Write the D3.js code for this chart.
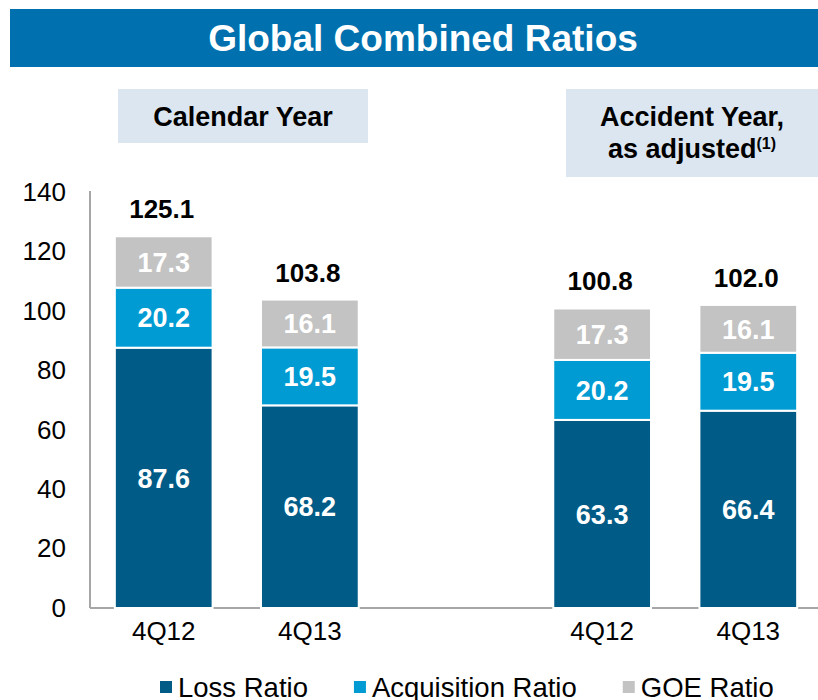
<!DOCTYPE html>
<html lang="en">
<head>
    <meta charset="UTF-8">
    <title>Global Combined Ratios</title>
    <style>
        body { margin: 0; background: #fff; }
        svg { display: block; font-family: Arial, "Liberation Sans", sans-serif; }
        .axis path { stroke: #a6a6a6; stroke-width: 2px; }
        .axis line { display: none; }
        .axis text { fill: #000; font-size: 26px; }
    </style>
</head>
<body>
    <script src="https://cdn.jsdelivr.net/npm/d3@7/dist/d3.min.js"></script>
    <script>
        var width = 818;
        var height = 700;

        // data
        var periods = ["4Q12", "4Q13", "4Q12", "4Q13"];
        var slots = [0, 1, 3, 4];          // slot 2 is the gap between the two groups
        var lossRatio = [87.6, 68.2, 63.3, 66.4];
        var acquisitionRatio = [20.2, 19.5, 20.2, 19.5];
        var goeRatio = [17.3, 16.1, 17.3, 16.1];
        var totals = [125.1, 103.8, 100.8, 102.0];
        var yTicks = [0, 20, 40, 60, 80, 100, 120, 140];
        var seriesNames = ["Loss Ratio", "Acquisition Ratio", "GOE Ratio"];
        var seriesKeys = ["loss", "acq", "goe"];
        var colors = ["#005b87", "#009bd3", "#c3c3c3"];

        var rows = periods.map(function(p, i) {
            return { i: i, period: p, slot: slots[i], loss: lossRatio[i], acq: acquisitionRatio[i], goe: goeRatio[i] };
        });

        var svg = d3.select("body")
                    .append("svg")
                    .attr("width", width)
                    .attr("height", height);

        // header band
        svg.append("rect")
            .attr("x", 10).attr("y", 9)
            .attr("width", 808).attr("height", 58)
            .attr("fill", "#0071ae");
        svg.append("text")
            .attr("x", 423).attr("y", 51)
            .attr("text-anchor", "middle")
            .attr("fill", "#fff")
            .attr("font-weight", "bold")
            .attr("font-size", 37)
            .text("Global Combined Ratios");

        // group captions
        svg.append("rect")
            .attr("x", 118).attr("y", 89)
            .attr("width", 250).attr("height", 54)
            .attr("fill", "#dce6f1");
        svg.append("text")
            .attr("x", 243).attr("y", 126)
            .attr("text-anchor", "middle")
            .attr("font-weight", "bold").attr("font-size", 27)
            .text("Calendar Year");

        svg.append("rect")
            .attr("x", 566).attr("y", 89)
            .attr("width", 252).attr("height", 88)
            .attr("fill", "#dce6f1");
        svg.append("text")
            .attr("x", 692).attr("y", 126)
            .attr("text-anchor", "middle")
            .attr("font-weight", "bold").attr("font-size", 27)
            .text("Accident Year,");
        var sub = svg.append("text")
            .attr("x", 692).attr("y", 158)
            .attr("text-anchor", "middle")
            .attr("font-weight", "bold").attr("font-size", 27);
        sub.append("tspan").text("as adjusted");
        sub.append("tspan").attr("font-size", 16).attr("dy", -9).text("(1)");

        // scales
        var x = d3.scaleBand()
            .domain([0, 1, 2, 3, 4])
            .range([90, 822])
            .paddingInner(0.331)
            .paddingOuter(0.17);

        var y = d3.scaleLinear()
            .domain([0, 140])
            .range([608, 192]);

        // axes
        svg.append("g")
            .attr("class", "axis")
            .attr("transform", "translate(90,0)")
            .call(d3.axisLeft(y).tickValues(yTicks).tickSize(0).tickPadding(24).tickSizeOuter(0))
            .select(".domain").attr("d", "M0," + (y(140) - 1) + "V" + y(0));

        var xAxis = svg.append("g")
            .attr("class", "axis")
            .attr("transform", "translate(0," + y(0) + ")")
            .call(d3.axisBottom(x).tickValues(slots).tickSize(0).tickPadding(14)
                .tickFormat(function(d) { return periods[slots.indexOf(d)]; }));
        xAxis.select(".domain").attr("d", "M90,0H818");
        xAxis.selectAll("text").attr("font-size", 29);

        // stacked bars
        var stacked = d3.stack().keys(seriesKeys)(rows);

        var layer = svg.append("g")
            .selectAll("g")
            .data(stacked)
            .enter()
            .append("g")
            .attr("fill", function(d, i) { return colors[i]; });

        layer.selectAll("rect")
            .data(function(d) { return d; })
            .enter()
            .append("rect")
            .attr("x", function(d) { return x(d.data.slot); })
            .attr("width", x.bandwidth())
            .attr("y", function(d) { return y(d[1]); })
            .attr("height", function(d) { return y(d[0]) - y(d[1]); })
            .attr("stroke", "#fff")
            .attr("stroke-width", 2);

        layer.selectAll("text")
            .data(function(d) { return d; })
            .enter()
            .append("text")
            .attr("x", function(d) { return x(d.data.slot) + x.bandwidth() / 2; })
            .attr("y", function(d) { return (y(d[0]) + y(d[1])) / 2; })
            .attr("dy", "0.36em")
            .attr("text-anchor", "middle")
            .attr("fill", "#fff")
            .attr("font-weight", "bold")
            .attr("font-size", 27)
            .text(function(d) { return (d[1] - d[0]).toFixed(1); });

        // totals
        svg.append("g")
            .selectAll("text")
            .data(rows)
            .enter()
            .append("text")
            .attr("x", function(d) { return x(d.slot) + x.bandwidth() / 2 - 2; })
            .attr("y", function(d) { return y(totals[d.i]) - 18; })
            .attr("text-anchor", "middle")
            .attr("font-weight", "bold")
            .attr("font-size", 26)
            .text(function(d) { return totals[d.i].toFixed(1); });

        // legend
        var legend = svg.append("g").attr("transform", "translate(160,687)");
        var lx = 0;
        seriesNames.forEach(function(name, i) {
            var item = legend.append("g").attr("transform", "translate(" + lx + ",0)");
            item.append("rect")
                .attr("x", 0).attr("y", -6)
                .attr("width", 12).attr("height", 12)
                .attr("fill", colors[i]);
            var t = item.append("text")
                .attr("x", 18).attr("y", 0)
                .attr("dy", "0.36em")
                .attr("font-size", 27.5)
                .text(name);
            lx += 18 + t.node().getComputedTextLength() + 46;
        });
    </script>
</body>
</html>
